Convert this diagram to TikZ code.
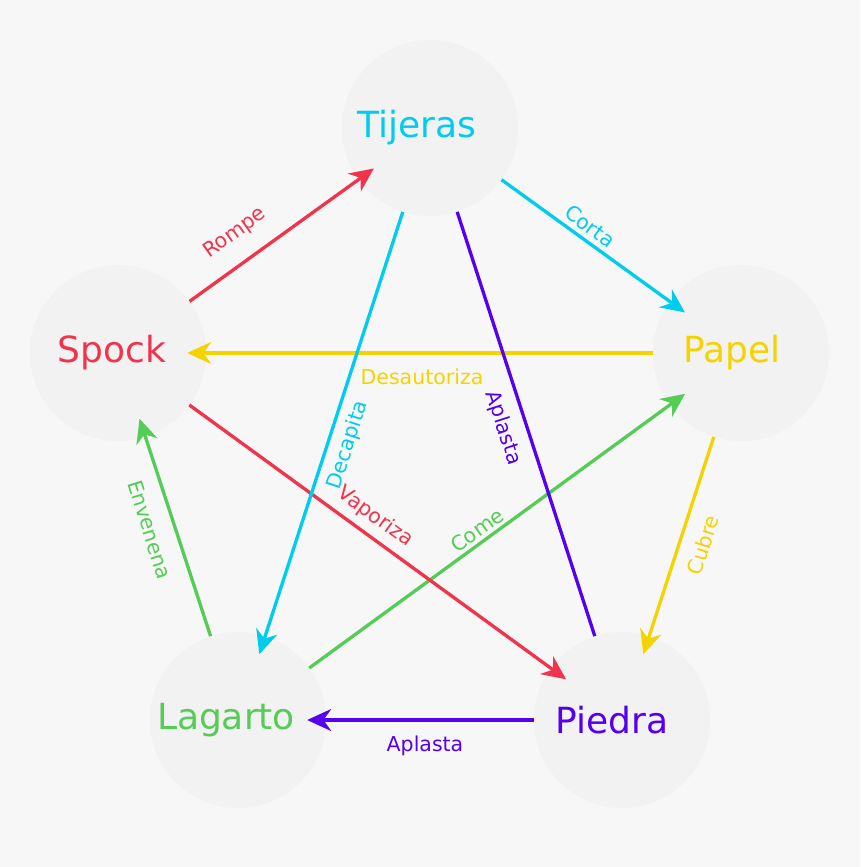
\documentclass[tikz,border=0pt]{standalone}
\usepackage{fontspec}
\setmainfont{DejaVu Sans}
\usetikzlibrary{arrows.meta}
\definecolor{bg}{HTML}{F7F7F7}
\definecolor{circ}{HTML}{F2F2F2}
\definecolor{cred}{HTML}{F0344C}
\definecolor{ccyan}{HTML}{00CCEE}
\definecolor{cyel}{HTML}{F5D300}
\definecolor{cpur}{HTML}{5500EE}
\definecolor{cgre}{HTML}{55CC55}
\begin{document}
\begin{tikzpicture}[x=1pt,y=-1pt,
  item/.style={circle,fill=circ,minimum size=176pt,inner sep=0pt},
  itemtext/.style={font=\fontsize{36}{40}\selectfont,inner sep=0pt},
  conn/.style={line width=3.3pt,-{Stealth[length=24pt,width=22pt]},shorten >=-19pt},
  plain/.style={line width=3.3pt},
  lab/.style={font=\fontsize{20.5}{22}\selectfont,inner sep=0pt}]
\fill[bg] (0,0) rectangle (860,867);
\useasboundingbox (0,0) rectangle (860,867);
\node[item] (T) at (430,128) {};
\node[item] (S) at (118,353) {};
\node[item] (P) at (741,353) {};
\node[item] (L) at (238,720) {};
\node[item] (R) at (622,720) {};
\node[itemtext,text=ccyan] (Tt) at (417,128) {Tijeras};
\node[itemtext,text=cred] (St) at (112,353) {Spock};
\node[itemtext,text=cyel] (Pt) at (732,353) {Papel};
\node[itemtext,text=cgre] (Lt) at (226,720) {Lagarto};
\node[itemtext,text=cpur] (Rt) at (612,720) {Piedra};
\draw[conn,cred] (S) -- (T);
\draw[conn,ccyan] (T) -- (P);
\draw[conn,cyel] (P) -- (S);
\draw[conn,cyel] (P) -- (R);
\draw[conn,cpur] (R) -- (L);
\draw[conn,cgre] (L) -- (S);
\draw[conn,cgre] (L) -- (P);
\draw[conn,cred] (S) -- (R);
\draw[conn,ccyan] (T) -- (L);
\draw[plain,cpur] (R) -- (T);
\node[lab,text=cred,rotate=35.5] (l1) at (235,233) {Rompe};
\node[lab,text=ccyan,rotate=-36] (l2) at (590,226) {Corta};
\node[lab,text=cyel] (l3) at (422,377) {Desautoriza};
\node[lab,text=cyel,rotate=72] (l4) at (703,545) {Cubre};
\node[lab,text=cpur] (l5) at (425,746) {Aplasta};
\node[lab,text=cgre,rotate=-72.7] (l6) at (150,530) {Envenena};
\node[lab,text=cgre,rotate=35.7] (l7) at (477,530) {Come};
\node[lab,text=cred,rotate=-35.8] (l8) at (375,517) {Vaporiza};
\node[lab,text=ccyan,rotate=72] (l9) at (348,445) {Decapita};
\node[lab,text=cpur,rotate=-72] (l10) at (503,428) {Aplasta};
\end{tikzpicture}
\end{document}
